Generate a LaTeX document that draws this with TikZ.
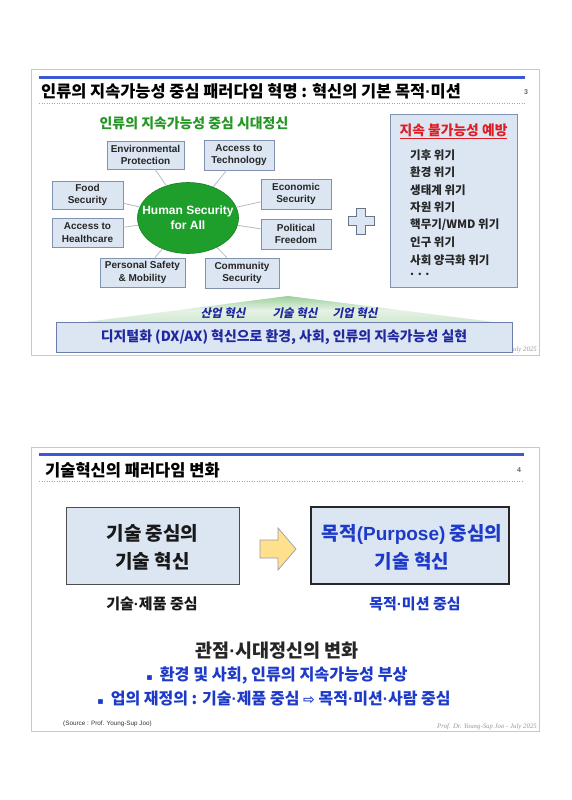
\documentclass[tikz,border=0pt]{standalone}
\usepackage{fontspec}
\setmainfont{Liberation Sans}
\newfontfamily\kr{Noto Sans CJK KR}
\newfontfamily\krit[FakeSlant=0.2]{Noto Sans CJK KR}
\newfontfamily\dv{DejaVu Sans}
\newfontfamily\ser{Liberation Serif}
\newfontfamily\lib{Liberation Sans}
\newcommand\md{{\lib ·}}
\usetikzlibrary{shapes.geometric}
\definecolor{boxfill}{RGB}{220,230,242}
\definecolor{boxborder}{RGB}{128,146,175}
\definecolor{hsgreen}{RGB}{30,158,42}
\definecolor{headgreen}{RGB}{36,150,36}
\definecolor{redtxt}{RGB}{222,30,36}
\definecolor{navy}{RGB}{32,40,160}
\definecolor{brightblue}{RGB}{30,58,200}
\definecolor{barblue}{RGB}{60,88,210}
\definecolor{framegray}{RGB}{200,200,200}
\definecolor{linegray}{RGB}{178,188,200}
\definecolor{arrowfill}{RGB}{255,224,140}
\definecolor{arrowdraw}{RGB}{150,155,180}
\tikzset{
  slideframe/.style={draw=framegray, line width=0.8pt, fill=white},
  bluebar/.style={draw=barblue, line width=3pt},
  dotrule/.style={draw=gray!70, line width=0.5pt, dotted},
  pnum/.style={font=\fontsize{7}{8}\selectfont\bfseries, text=gray!80!black},
  hsbox/.style={draw=boxborder, fill=boxfill, line width=0.8pt, inner sep=0pt, align=center,
     font=\fontsize{10}{12.3}\selectfont\bfseries, text=black!85},
  conn/.style={draw=linegray, line width=0.8pt},
  itemtxt/.style={anchor=west, inner sep=0pt, font=\kr\bfseries\fontsize{11.5}{12}\selectfont, text=black!85},
  roofit/.style={inner sep=0pt, font=\krit\bfseries\fontsize{11.5}{12}\selectfont, text=navy},
  footer/.style={anchor=east, inner sep=0pt, font=\ser\itshape\fontsize{6.8}{7}\selectfont, text=gray!80},
  bigbox/.style={inner sep=0pt, align=center, font=\kr\bfseries\fontsize{19}{28}\selectfont},
}
\begin{document}
\begin{tikzpicture}[x=1pt,y=-1pt]
\useasboundingbox[fill=white] (0,0) rectangle (571,800);
% ================= Slide 1 =================
\draw[slideframe] (31,69) rectangle (539,355);
\draw[bluebar] (39,77) -- (525,77);
\node[anchor=west, inner sep=0pt, font=\kr\bfseries\fontsize{16.4}{18}\selectfont] (t1) at (41,91)
  {인류의 지속가능성 중심 패러다임 혁명 : 혁신의 기본 목적\md 미션};
\node[pnum] (p3) at (526,92) {3};
\draw[dotrule] (39,103) -- (525,103);
\node[inner sep=0pt, font=\kr\bfseries\fontsize{13.9}{15}\selectfont, text=headgreen] (gh) at (194,123)
  {인류의 지속가능성 중심 시대정신};
% central ellipse
\node[ellipse, fill=hsgreen, draw=hsgreen!80!black, line width=0.6pt, minimum width=101pt, minimum height=71pt,
  inner sep=0pt] (hs) at (188,218) {};
% boxes
\node[hsbox, minimum width=77pt, minimum height=28pt] (ep) at (145.5,155) {Environmental\\Protection};
\node[hsbox, minimum width=70pt, minimum height=30pt] (at) at (239,155) {Access to\\Technology};
\node[hsbox, minimum width=71pt, minimum height=28pt] (fs) at (87.5,195) {Food\\Security};
\node[hsbox, minimum width=70pt, minimum height=30pt] (es) at (296,194) {Economic\\Security};
\node[hsbox, minimum width=71pt, minimum height=29pt] (ah) at (87.5,232.5) {Access to\\Healthcare};
\node[hsbox, minimum width=70pt, minimum height=30pt] (pf) at (296,234) {Political\\Freedom};
\node[hsbox, minimum width=85pt, minimum height=29pt] (ps) at (142.5,272.5) {Personal Safety\\\& Mobility};
\node[hsbox, minimum width=74pt, minimum height=30pt] (cs) at (242,273) {Community\\Security};
\foreach \b in {ep,at,fs,es,ah,pf,ps,cs}{\path[conn] (hs) -- (\b);}
\node[inner sep=0pt, align=center, text=white, font=\fontsize{12}{15}\selectfont\bfseries] (hst) at (188,218)
  {Human Security\\for All};
% plus sign
\draw[draw=boxborder!80!black, fill=boxfill, line width=0.8pt]
  (356.5,208) -- (365.5,208) -- (365.5,216.5) -- (374,216.5) -- (374,225.5) -- (365.5,225.5)
  -- (365.5,234) -- (356.5,234) -- (356.5,225.5) -- (348,225.5) -- (348,216.5) -- (356.5,216.5) -- cycle;
% right box
\node[draw=boxborder, fill=boxfill, line width=0.8pt, minimum width=127pt, minimum height=173pt, inner sep=0pt]
  (rb) at (453.5,200.5) {};
\node[inner sep=0pt, font=\kr\bfseries\fontsize{13.8}{14}\selectfont, text=redtxt] (rbt) at (453.5,131)
  {\underline{지속 불가능성 예방}};
\node[itemtxt] (i1) at (410,155) {기후 위기};
\node[itemtxt] (i2) at (410,172.5) {환경 위기};
\node[itemtxt] (i3) at (410,190) {생태계 위기};
\node[itemtxt] (i4) at (410,207.5) {자원 위기};
\node[itemtxt] (i5) at (410,225) {핵무기/WMD 위기};
\node[itemtxt] (i6) at (410,242.5) {인구 위기};
\node[itemtxt] (i7) at (410,260) {사회 양극화 위기};
\node[itemtxt] (i8) at (410,274) {. . .};
% roof
\shade[top color=headgreen!45, bottom color=headgreen!22, middle color=white!88!headgreen]
  (288,296) -- (510,324) -- (70,324) -- cycle;
\node[roofit] (r1) at (223,313) {산업 혁신};
\node[roofit] (r2) at (295,313) {기술 혁신};
\node[roofit] (r3) at (355,313) {기업 혁신};
\node[footer] (f1) at (537,350) {Prof. Dr. Young-Sup Joo - July 2025};
\node[draw=boxborder!80!navy, fill=boxfill, line width=0.9pt, minimum width=456pt, minimum height=30pt, inner sep=0pt,
  font=\kr\bfseries\fontsize{13.9}{15}\selectfont, text=navy] (bb) at (284,337)
  {디지털화 (DX/AX) 혁신으로 환경, 사회, 인류의 지속가능성 실현};
% ================= Slide 2 =================
\draw[slideframe] (31,447) rectangle (539,731);
\draw[bluebar] (39,454) -- (524,454);
\node[anchor=west, inner sep=0pt, font=\kr\bfseries\fontsize{16.5}{18}\selectfont] (t2) at (45,470)
  {기술혁신의 패러다임 변화};
\node[pnum] (p4) at (519,470) {4};
\draw[dotrule] (39,481) -- (524,481);
\node[draw=black!70, fill=boxfill, line width=0.9pt, minimum width=173pt, minimum height=77pt] (lb) at (152.5,545.5) {};
\node[bigbox, text=black!90] (lbt) at (152.5,547) {기술 중심의\\기술 혁신};
\node[draw=black!85, fill=boxfill, line width=1.3pt, minimum width=198pt, minimum height=77pt] (rb2) at (410,545.5) {};
\node[bigbox, text=brightblue] (rbt2) at (412,547) {목적{\lib(Purpose)} 중심의\\기술 혁신};
\draw[draw=arrowdraw, fill=arrowfill, line width=0.7pt]
  (260,540) -- (278,540) -- (278,528) -- (296,549) -- (278,570) -- (278,558) -- (260,558) -- cycle;
\node[inner sep=0pt, font=\kr\bfseries\fontsize{15}{16}\selectfont, text=black!90] (c1) at (152,604) {기술\md 제품 중심};
\node[inner sep=0pt, font=\kr\bfseries\fontsize{15}{16}\selectfont, text=brightblue] (c2) at (415,604) {목적\md 미션 중심};
\node[inner sep=0pt, font=\kr\fontsize{18.5}{19}\selectfont\bfseries, text=black!85] (vt) at (277,651) {관점\md 시대정신의 변화};
\node[inner sep=0pt, font=\kr\bfseries\fontsize{16.2}{17}\selectfont, text=brightblue] (b1) at (277,675)
  {{\dv\fontsize{9.5}{10}\selectfont ▪}\hspace{7pt}환경 및 사회, 인류의 지속가능성 부상};
\node[inner sep=0pt, font=\kr\bfseries\fontsize{16}{17}\selectfont, text=brightblue] (b2) at (274,699)
  {{\dv\fontsize{9.5}{10}\selectfont ▪}\hspace{7pt}업의 재정의 : 기술\md 제품 중심 {\dv\fontsize{14}{14}\selectfont ⇨} 목적\md 미션\md 사람 중심};
\node[anchor=west, inner sep=0pt, font=\fontsize{6.3}{7}\selectfont, text=black!80] (src) at (63,724) {(Source : Prof. Young-Sup Joo)};
\node[footer] (f2) at (537,727) {Prof. Dr. Young-Sup Joo - July 2025};
\end{tikzpicture}
\end{document}
